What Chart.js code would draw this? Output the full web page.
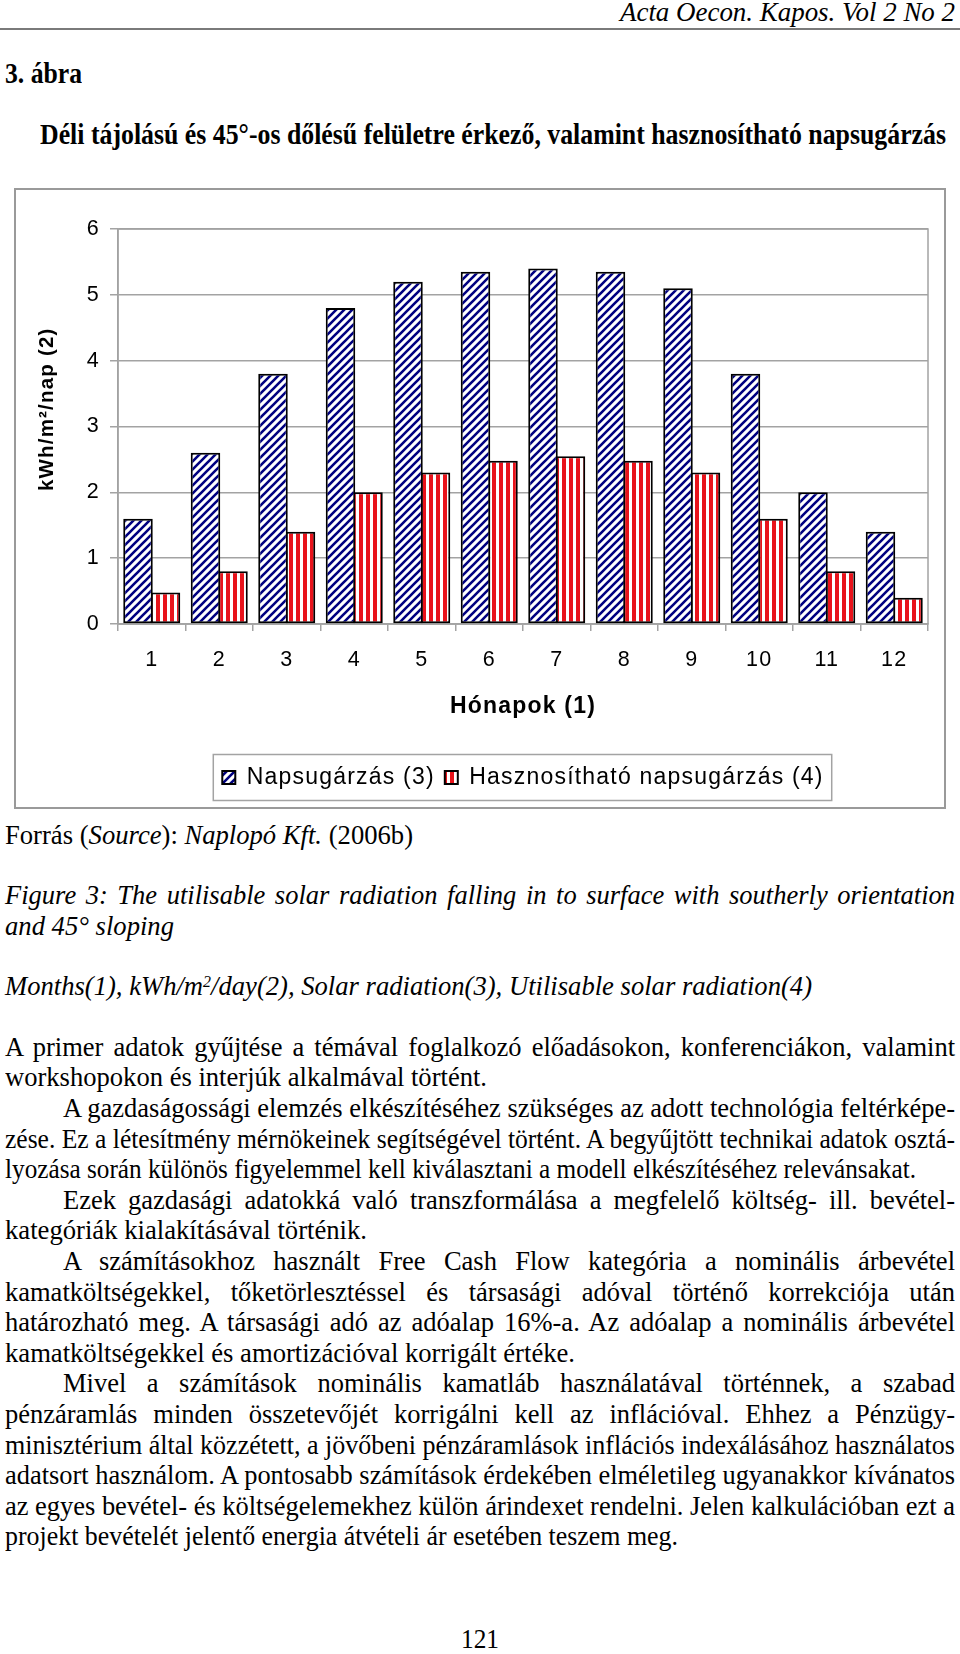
<!DOCTYPE html>
<html><head><meta charset="utf-8">
<script src="https://cdn.jsdelivr.net/npm/chart.js@4.4.1/dist/chart.umd.min.js"></script>
<style>
html,body{margin:0;padding:0;background:#fff;}
body{width:960px;height:1654px;position:relative;overflow:hidden;}
.ln{position:absolute;white-space:pre;font-family:'Liberation Serif','Times New Roman',serif;font-size:26.5px;line-height:1;color:#000;transform-origin:0 0;}
.it{font-style:italic}
.b{font-weight:bold}
sup{font-size:0.6em;vertical-align:0.5em;line-height:0}
#rule{position:absolute;left:0;top:28px;width:960px;height:2px;background:#7a7a7a}
#frame{position:absolute;left:14px;top:188px;width:932px;height:621px;border:2px solid #9a9a9a;box-sizing:border-box}
#frame canvas{display:block}
</style></head><body>
<div class="ln it" style="font-size:28px" data-b="21" data-x="620" data-w="335">Acta Oecon. Kapos. Vol 2 No 2</div>
<div id="rule"></div>
<div class="ln b" style="font-size:30px" data-b="83" data-x="5" data-w="77">3. ábra</div>
<div class="ln b" style="font-size:29px" data-b="144" data-x="40" data-w="906">Déli tájolású és 45°-os dőlésű felületre érkező, valamint hasznosítható napsugárzás</div>

<div id="frame"><canvas id="c" width="928" height="617"></canvas></div>

<div class="ln" data-b="844" data-x="5" data-w="408">Forrás (<i>Source</i>): <i>Naplopó Kft.</i> (2006b)</div>
<div class="ln it" data-b="904" data-x="5" data-w="950" data-j="1">Figure 3: The utilisable solar radiation falling in to surface with southerly orientation</div>
<div class="ln it" data-b="935" data-x="5" data-w="169">and 45° sloping</div>
<div class="ln it" data-b="995" data-x="5" data-w="807">Months(1), kWh/m<sup>2</sup>/day(2), Solar radiation(3), Utilisable solar radiation(4)</div>

<div class="ln body" data-k="0" data-x="5" data-w="950" data-j="1">A primer adatok gyűjtése a témával foglalkozó előadásokon, konferenciákon, valamint</div>
<div class="ln body" data-k="1" data-x="5" data-w="482">workshopokon és interjúk alkalmával történt.</div>
<div class="ln body" data-k="2" data-x="63" data-w="892" data-j="1">A gazdaságossági elemzés elkészítéséhez szükséges az adott technológia feltérképe-</div>
<div class="ln body" data-k="3" data-x="5" data-w="950" data-j="1">zése. Ez a létesítmény mérnökeinek segítségével történt. A begyűjtött technikai adatok osztá-</div>
<div class="ln body" data-k="4" data-x="5" data-w="911">lyozása során különös figyelemmel kell kiválasztani a modell elkészítéséhez relevánsakat.</div>
<div class="ln body" data-k="5" data-x="63" data-w="892" data-j="1">Ezek gazdasági adatokká való transzformálása a megfelelő költség- ill. bevétel-</div>
<div class="ln body" data-k="6" data-x="5" data-w="362">kategóriák kialakításával történik.</div>
<div class="ln body" data-k="7" data-x="63" data-w="892" data-j="1">A számításokhoz használt Free Cash Flow kategória a nominális árbevétel</div>
<div class="ln body" data-k="8" data-x="5" data-w="950" data-j="1">kamatköltségekkel, tőketörlesztéssel és társasági adóval történő korrekciója után</div>
<div class="ln body" data-k="9" data-x="5" data-w="950" data-j="1">határozható meg. A társasági adó az adóalap 16%-a. Az adóalap a nominális árbevétel</div>
<div class="ln body" data-k="10" data-x="5" data-w="570">kamatköltségekkel és amortizációval korrigált értéke.</div>
<div class="ln body" data-k="11" data-x="63" data-w="892" data-j="1">Mivel a számítások nominális kamatláb használatával történnek, a szabad</div>
<div class="ln body" data-k="12" data-x="5" data-w="950" data-j="1">pénzáramlás minden összetevőjét korrigálni kell az inflációval. Ehhez a Pénzügy-</div>
<div class="ln body" data-k="13" data-x="5" data-w="950" data-j="1">minisztérium által közzétett, a jövőbeni pénzáramlások inflációs indexálásához használatos</div>
<div class="ln body" data-k="14" data-x="5" data-w="950" data-j="1">adatsort használom. A pontosabb számítások érdekében elméletileg ugyanakkor kívánatos</div>
<div class="ln body" data-k="15" data-x="5" data-w="950" data-j="1">az egyes bevétel- és költségelemekhez külön árindexet rendelni. Jelen kalkulációban ezt a</div>
<div class="ln body" data-k="16" data-x="5" data-w="673">projekt bevételét jelentő energia átvételi ár esetében teszem meg.</div>

<div class="ln" data-b="1648" data-x="461" data-w="38">121</div>

<script>
// ---- chart data ----
const months = ['1','2','3','4','5','6','7','8','9','10','11','12'];
const solarRadiation = [1.6, 2.6, 3.8, 4.8, 5.2, 5.35, 5.4, 5.35, 5.1, 3.8, 2.0, 1.4];
const usableRadiation = [0.48, 0.8, 1.4, 2.0, 2.3, 2.48, 2.55, 2.48, 2.3, 1.6, 0.8, 0.4];
const yTicks = [0, 1, 2, 3, 4, 5, 6];
const seriesLabels = ['Napsugárzás (3)', 'Hasznosítható napsugárzás (4)'];
const xTitle = 'Hónapok (1)';
const yTitle = '\u00A0\u00A0\u00A0\u00A0\u00A0kWh/m²/nap (2)';

// ---- text layout ----
const BODY0 = 1056, BODYSTEP = 30.6;
document.querySelectorAll('.ln').forEach(el => {
  const fs = parseFloat(getComputedStyle(el).fontSize);
  const b = el.dataset.k !== undefined ? BODY0 + BODYSTEP * (+el.dataset.k) : +el.dataset.b;
  const x = +el.dataset.x, T = +el.dataset.w;
  el.style.left = x + 'px';
  el.style.top = (b - 0.8375 * fs) + 'px';
  const w = el.getBoundingClientRect().width;
  if (el.dataset.j) {
    const n = (el.textContent.match(/ /g) || []).length;
    if (w < T && n) el.style.wordSpacing = ((T - w) / n) + 'px';
    else el.style.transform = 'scaleX(' + (T / w) + ')';
  } else {
    el.style.transform = 'scaleX(' + (T / w) + ')';
  }
});

// ---- patterns ----
function hatchPattern() {
  const c = document.createElement('canvas'); c.width = 8; c.height = 8;
  const g = c.getContext('2d');
  g.fillStyle = '#fff'; g.fillRect(0, 0, 8, 8);
  g.strokeStyle = '#000080'; g.lineWidth = 2.6;
  g.beginPath();
  g.moveTo(-3, 3); g.lineTo(3, -3);
  g.moveTo(-3, 11); g.lineTo(11, -3);
  g.moveTo(5, 11); g.lineTo(11, 5);
  g.stroke();
  return g.createPattern(c, 'repeat');
}
function stripePattern() {
  const c = document.createElement('canvas'); c.width = 7; c.height = 7;
  const g = c.getContext('2d');
  g.fillStyle = '#fff'; g.fillRect(0, 0, 7, 7);
  g.fillStyle = '#e8131b'; g.fillRect(0, 0, 4, 7);
  return g.createPattern(c, 'repeat');
}

const F = "'Liberation Sans', Arial, sans-serif";
const GRID = '#a3a3a3';

const spacingPlugin = {
  id: 'ls',
  beforeLayout(chart) { chart.ctx.letterSpacing = '1.2px'; },
  beforeDraw(chart) { chart.ctx.letterSpacing = '1.2px'; }
};
const plotBorder = {
  id: 'pb',
  beforeDatasetsDraw(chart) {
    const {ctx, chartArea: a} = chart;
    ctx.save(); ctx.strokeStyle = GRID; ctx.lineWidth = 1.5;
    ctx.strokeRect(a.left, a.top, a.right - a.left, a.bottom - a.top);
    ctx.restore();
  }
};
const legendBox = {
  id: 'lb',
  afterDraw(chart) {
    const hb = chart.legend && chart.legend.legendHitBoxes;
    if (!hb || !hb.length) return;
    const f = hb[0], l = hb[hb.length - 1];
    const cy = f.top + f.height / 2;
    const ctx = chart.ctx;
    ctx.save(); ctx.strokeStyle = GRID; ctx.lineWidth = 1.5;
    const x0 = f.left - 9, x1 = l.left + l.width + 8;
    ctx.strokeRect(x0, cy - 23, x1 - x0, 46);
    ctx.restore();
  }
};

new Chart(document.getElementById('c').getContext('2d'), {
  type: 'bar',
  data: {
    labels: months,
    datasets: [
      {label: seriesLabels[0], data: solarRadiation, backgroundColor: hatchPattern(), borderColor: '#000', borderWidth: 2, borderSkipped: false, categoryPercentage: 0.815, barPercentage: 1.073},
      {label: seriesLabels[1], data: usableRadiation, backgroundColor: stripePattern(), borderColor: '#000', borderWidth: 2, borderSkipped: false, categoryPercentage: 0.815, barPercentage: 1.073}
    ]
  },
  options: {
    responsive: false, animation: false, devicePixelRatio: 1,
    layout: {padding: {left: 0, right: 16, top: 39, bottom: 8}},
    plugins: {
      legend: {position: 'bottom', fullSize: false,
        labels: {font: {family: F, size: 23}, color: '#000', boxWidth: 13, boxHeight: 13, padding: 10}},
      tooltip: {enabled: false}
    },
    scales: {
      x: {
        grid: {drawOnChartArea: false, drawTicks: true, tickLength: 7, color: GRID, lineWidth: 1.5, offset: true},
        border: {color: GRID, width: 1.5},
        ticks: {font: {family: F, size: 21.5}, color: '#000', padding: 16, maxRotation: 0, autoSkip: false},
        title: {display: true, text: xTitle, font: {family: F, size: 23, weight: 'bold'}, color: '#000', padding: {top: 0, bottom: 36}},
        afterFit(s) { s.height = 132; }
      },
      y: {
        min: 0, max: 6,
        afterBuildTicks(s) { s.ticks = yTicks.map(v => ({value: v})); },
        ticks: {font: {family: F, size: 21.5}, color: '#000', padding: 10},
        grid: {color: GRID, lineWidth: 1.5, tickLength: 8},
        border: {color: GRID, width: 1.5},
        title: {display: true, text: yTitle, font: {family: F, size: 20.5, weight: 'bold'}, color: '#000', padding: {top: 19, bottom: 0}},
        afterFit(s) { s.width = 102; }
      }
    }
  },
  plugins: [spacingPlugin, plotBorder, legendBox]
});
</script>
</body></html>
